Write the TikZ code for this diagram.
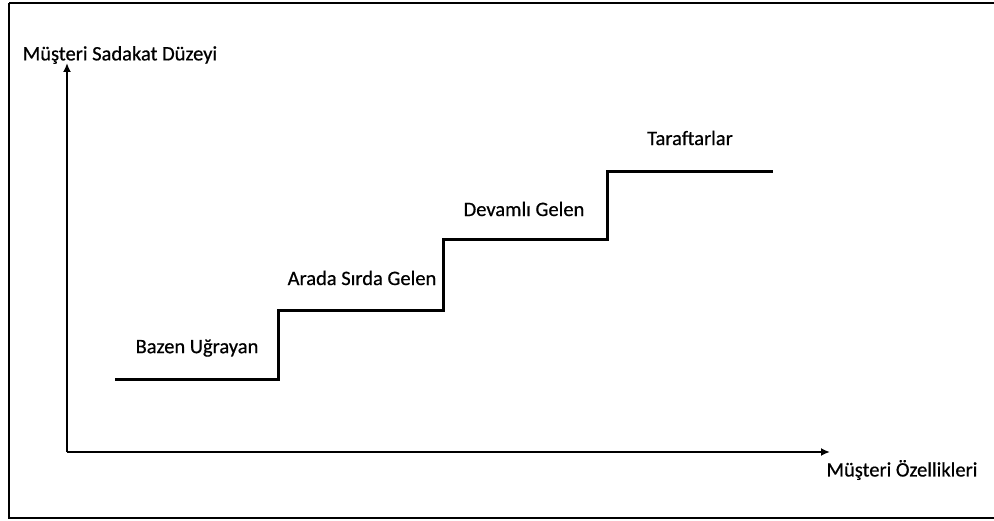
\documentclass[tikz,border=0pt]{standalone}
\usepackage{fontspec}
\setmainfont{Carlito}[FakeBold=0.6]
\usetikzlibrary{arrows.meta}
\begin{document}
\begin{tikzpicture}[x=1pt,y=-1pt,
  lbl/.style={inner sep=0pt,font=\fontsize{20.5}{24}\selectfont},
  axis/.style={line width=1.8pt,-{Latex[length=9pt,width=8pt]}},
  stair/.style={line width=3pt,line join=miter}]
\useasboundingbox (0,0) rectangle (994,521);
\fill[white] (0,0) rectangle (994,521);
\draw[line width=2.2pt] (9,3) -- (1000,3);
\draw[line width=2.2pt] (9,3) -- (9,518) -- (1000,518);
\coordinate (o) at (67,452);
\coordinate (ytip) at (67,63);
\coordinate (xtip) at (830,452);
\draw[axis] (o) -- (ytip);
\draw[axis] (o) -- (xtip);
\coordinate (s0) at (115,380);
\coordinate (s1) at (278,380);
\coordinate (s2) at (278,311);
\coordinate (s3) at (443,311);
\coordinate (s4) at (443,240);
\coordinate (s5) at (607,240);
\coordinate (s6) at (607,172);
\coordinate (s7) at (773,172);
\draw[stair] (s0) -- (s1) -- (s2) -- (s3) -- (s4) -- (s5) -- (s6) -- (s7);
\node[lbl] (ly) at (120,55) {Müşteri Sadakat Düzeyi};
\node[lbl] (lx) at (902,470) {Müşteri Özellikleri};
\node[lbl] (l1) at (197,348) {Bazen Uğrayan};
\node[lbl] (l2) at (362,278) {Arada Sırda Gelen};
\node[lbl] (l3) at (524,209) {Devamlı Gelen};
\node[lbl] (l4) at (690,138) {Taraftarlar};
\end{tikzpicture}
\end{document}
